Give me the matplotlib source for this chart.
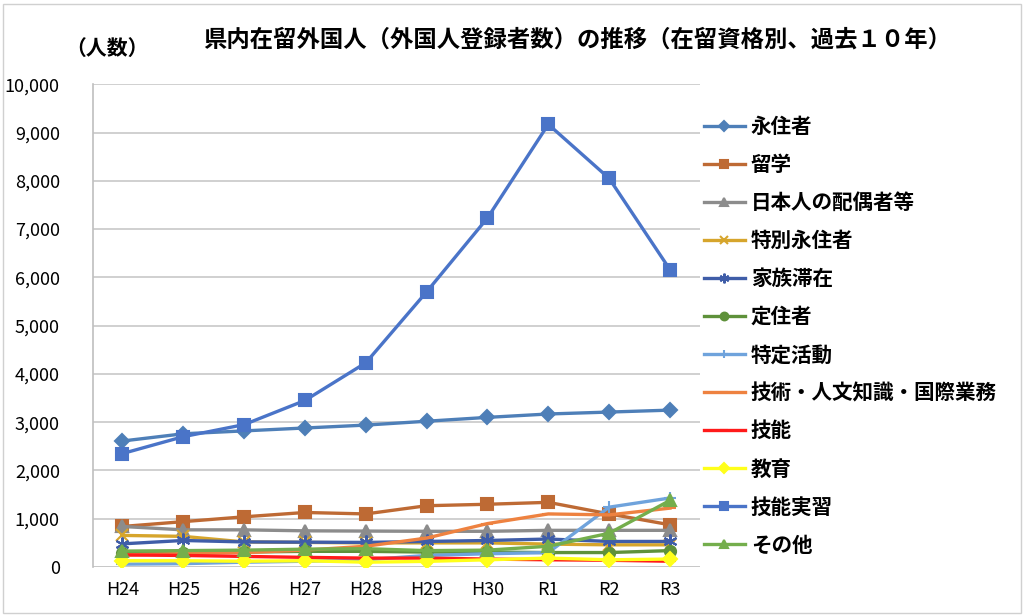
import numpy as np
import matplotlib
matplotlib.use('Agg')
import matplotlib.pyplot as plt
from matplotlib.patches import Rectangle

plt.rcParams['font.family'] = ['Noto Sans CJK JP', 'DejaVu Sans']

years = ['H24', 'H25', 'H26', 'H27', 'H28', 'H29', 'H30', 'R1', 'R2', 'R3']

eijusha = [2610, 2760, 2820, 2880, 2940, 3020, 3100, 3170, 3210, 3250]
ryugaku = [840, 940, 1040, 1130, 1100, 1270, 1300, 1340, 1100, 875]
haigusha = [840, 770, 770, 750, 745, 740, 740, 760, 760, 760]
tokubetsu = [655, 635, 520, 510, 500, 500, 500, 475, 460, 460]
kazoku = [480, 550, 520, 515, 510, 530, 550, 580, 530, 530]
teijusha = [300, 300, 310, 325, 325, 310, 310, 300, 300, 340]
tokutei = [60, 70, 100, 120, 150, 240, 275, 300, 1240, 1430]
gijutsu = [250, 280, 300, 350, 430, 600, 900, 1100, 1080, 1220]
gino = [250, 240, 220, 200, 185, 185, 165, 150, 140, 120]
kyoiku = [130, 130, 120, 130, 100, 117, 150, 185, 150, 165]
jisshu = [2350, 2700, 2950, 3450, 4230, 5700, 7230, 9170, 8050, 6160]
sonota = [330, 340, 350, 370, 380, 340, 350, 430, 700, 1380]

series = [
    ('永住者', eijusha, '#4E7FB8', 'D', 7),
    ('留学', ryugaku, '#BE6A34', 's', 8),
    ('日本人の配偶者等', haigusha, '#8C8C8C', '^', 8),
    ('特別永住者', tokubetsu, '#D6A52C', 'x', 8),
    ('家族滞在', kazoku, '#3F5DA8', (6, 2, 0), 10),
    ('定住者', teijusha, '#5E913A', 'o', 8),
    ('特定活動', tokutei, '#6FA3DC', '+', 9),
    ('技術・人文知識・国際業務', gijutsu, '#EE8240', '_', 8),
    ('技能', gino, '#FF1A1A', '_', 8),
    ('教育', kyoiku, '#FFFF1A', 'D', 7),
    ('技能実習', jisshu, '#4A74C8', 's', 9),
    ('その他', sonota, '#74AE4C', '^', 9),
]

fig = plt.figure(figsize=(10.24, 6.15), dpi=100)
ax = fig.add_axes([0.091, 0.078, 0.593, 0.785])

x = np.arange(len(years))
for name, vals, col, mk, ms in series:
    ax.plot(x, vals, color=col, lw=2.4, marker=mk, markersize=ms,
            markeredgecolor=col, markerfacecolor=col, markeredgewidth=1.5,
            label=name)

ax.set_xlim(-0.48, 9.5)
ax.set_ylim(0, 10000)
ax.set_yticks(np.arange(0, 10001, 1000))
ax.set_yticklabels(['{:,}'.format(v) for v in range(0, 10001, 1000)], fontsize=13)
ax.set_xticks(x)
ax.set_xticklabels(years, fontsize=13)
ax.tick_params(length=0, pad=10)
ax.tick_params(axis='y', pad=24)
ax.grid(axis='y', color='#c8c8c8', lw=1.2)
ax.set_axisbelow(True)
for s in ['top', 'right', 'bottom']:
    ax.spines[s].set_visible(False)
ax.spines['left'].set_color('#bfbfbf')
ax.spines['left'].set_linewidth(1.2)
ax.axhline(0, color='#bfbfbf', lw=1.2, zorder=0.5)

leg = fig.legend(loc='upper left', bbox_to_anchor=(0.679, 0.825), frameon=False,
                 fontsize=14.8, handlelength=2.0, handletextpad=0.3,
                 labelspacing=0.83, borderaxespad=0, markerscale=0.7)
for t in leg.get_texts():
    t.set_fontweight('bold')

fig.text(0.564, 0.935, '県内在留外国人（外国人登録者数）の推移（在留資格別、過去１０年）',
         ha='center', va='center', fontsize=16.8, fontweight='bold')
fig.text(0.104, 0.922, '（人数）', ha='center', va='center', fontsize=15, fontweight='bold')

fig.patches.append(Rectangle((0.003, 0.004), 0.994, 0.99, transform=fig.transFigure,
                             fill=False, edgecolor='#d0d0d0', lw=1))

fig.savefig('out.png', dpi=100)
